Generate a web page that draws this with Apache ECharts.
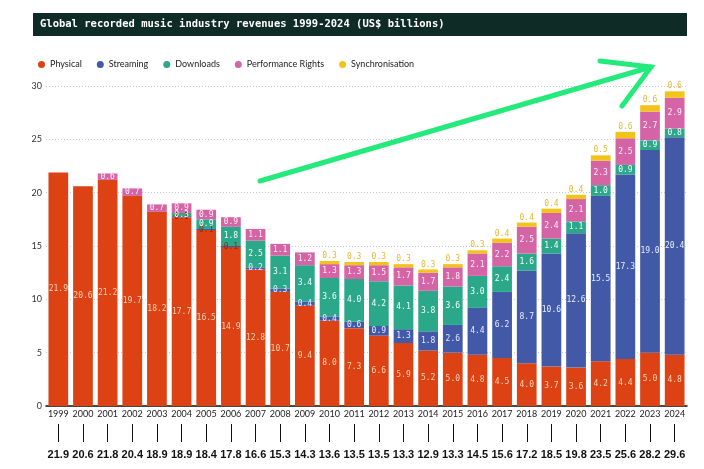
<!DOCTYPE html>
<html><head><meta charset="utf-8">
<script src="https://cdn.jsdelivr.net/npm/echarts@6/dist/echarts.min.js"></script>
<style>html,body{margin:0;padding:0;background:#fff}#c{width:704px;height:469px}</style>
</head><body><div id="c"></div>
<script>
const years = ['1999','2000','2001','2002','2003','2004','2005','2006','2007','2008','2009','2010','2011','2012','2013','2014','2015','2016','2017','2018','2019','2020','2021','2022','2023','2024'];
const physical = [21.9,20.6,21.2,19.7,18.2,17.7,16.5,14.9,12.8,10.7,9.4,8.0,7.3,6.6,5.9,5.2,5.0,4.8,4.5,4.0,3.7,3.6,4.2,4.4,5.0,4.8];
const streaming = [null,null,null,null,null,0.1,0.1,0.1,0.2,0.3,0.4,0.4,0.6,0.9,1.3,1.8,2.6,4.4,6.2,8.7,10.6,12.6,15.5,17.3,19.0,20.4];
const downloads = [null,null,null,null,null,0.3,0.9,1.8,2.5,3.1,3.4,3.6,4.0,4.2,4.1,3.8,3.6,3.0,2.4,1.6,1.4,1.1,1.0,0.9,0.9,0.8];
const performance = [null,null,0.6,0.7,0.7,0.9,0.9,0.9,1.1,1.1,1.2,1.3,1.3,1.5,1.7,1.7,1.8,2.1,2.2,2.5,2.4,2.1,2.3,2.5,2.7,2.9];
const sync = [null,null,null,null,null,null,null,null,null,null,null,0.3,0.3,0.3,0.3,0.3,0.3,0.3,0.4,0.4,0.4,0.4,0.5,0.6,0.6,0.6];
const totals = ['21.9','20.6','21.8','20.4','18.9','18.9','18.4','17.8','16.6','15.3','14.3','13.6','13.5','13.5','13.3','12.9','13.3','14.5','15.6','17.2','18.5','19.8','23.5','25.6','28.2','29.6'];
const yTicks = [0,5,10,15,20,25,30];

const chart = echarts.init(document.getElementById('c'), null, {renderer:'canvas'});
const mono = 'DejaVu Sans Mono, monospace';
const fmt = p => (p.value == null ? '' : Number(p.value).toFixed(1));
function bar(name, data, color, labelColor, pos) {
  return {
    name, type:'bar', stack:'t', data: data.map(v => v == null ? '-' : v),
    barWidth:'80%', itemStyle:{color},
    label:{show:true, position:pos||'inside', distance:1, formatter:fmt, fontFamily:mono, fontSize:8, color:labelColor},
    emphasis:{disabled:true}
  };
}
const streamSeries = bar('Streaming', streaming, '#4259a8', '#e6ebff');
streamSeries.data = streaming.map(v => v == null ? '-' : (v < 0.15 ? {value:v, label:{color:'#8c2e0e'}} : v));

chart.setOption({
  animation:false,
  graphic:[
    {type:'rect', shape:{x:33,y:13,width:654,height:23}, style:{fill:'#0e2b25'}, z:0},
    {type:'text', x:40, y:24.5, style:{text:'Global recorded music industry revenues 1999-2024 (US$ billions)', fill:'#fff', font:'bold 10.5px DejaVu Sans Mono', textVerticalAlign:'middle'}, z:1},
    {type:'polyline', shape:{points:[[260,181],[651,67]]}, style:{stroke:'#24ea7c', lineWidth:5, lineCap:'round', fill:null}, z:100},
    {type:'polyline', shape:{points:[[600,61],[651,67],[622,106]]}, style:{stroke:'#24ea7c', lineWidth:5, lineCap:'round', lineJoin:'miter', fill:null}, z:100}
  ],
  legend:{left:33, top:55, icon:'circle', itemWidth:7, itemHeight:7, itemGap:15,
    textStyle:{fontSize:9, color:'#222', fontFamily:'Lato, sans-serif'},
    data:['Physical','Streaming','Downloads','Performance Rights','Synchronisation']},
  grid:{left:46, right:17, top:86, bottom:63},
  xAxis:[
    {type:'category', data:years, axisLine:{lineStyle:{color:'#111', width:1.5}}, axisTick:{show:false},
     axisLabel:{fontSize:9, color:'#222', margin:4, interval:0, fontFamily:'Lato, sans-serif'}},
    {type:'category', data:years, position:'bottom', offset:36, axisLine:{show:false},
     axisTick:{show:true, inside:true, length:18, alignWithLabel:true, lineStyle:{color:'#111', width:1}},
     axisLabel:{interval:0, margin:7, fontSize:11, fontWeight:'bold', color:'#111', fontFamily:'Liberation Sans, sans-serif',
       formatter:(v,i)=>totals[i]}}
  ],
  yAxis:{type:'value', min:yTicks[0], max:yTicks[yTicks.length-1], interval:5,
    axisLabel:{fontSize:9, color:'#333', margin:4, fontFamily:'Lato, sans-serif'},
    axisLine:{show:false}, axisTick:{show:false},
    splitLine:{lineStyle:{color:'#c8c8c8', type:[1,2], width:1}}},
  series:[
    bar('Physical', physical, '#dc4213', '#fbd3b5'),
    streamSeries,
    bar('Downloads', downloads, '#2ba88a', '#f2fffa'),
    bar('Performance Rights', performance, '#d464a6', '#fff0f8'),
    bar('Synchronisation', sync, '#f2c318', '#e2b73a', 'top')
  ]
});
</script></body></html>
